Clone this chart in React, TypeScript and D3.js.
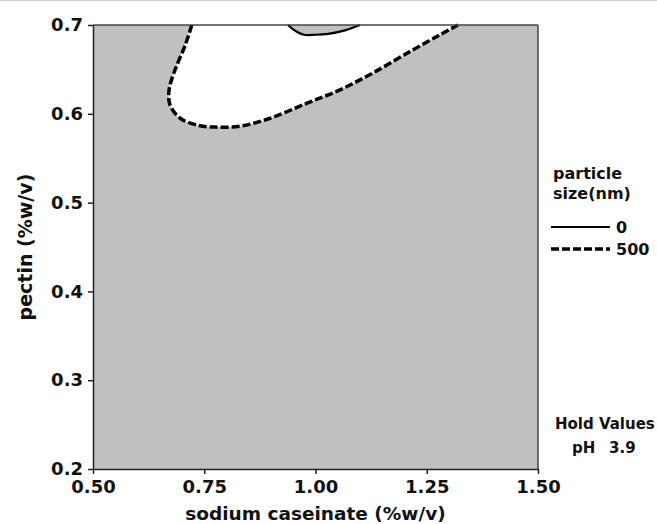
import React, { useEffect, useRef } from "react";
import * as d3 from "d3";

// axis ticks
const xTicks = [0.5, 0.75, 1.0, 1.25, 1.5];
const yTicks = [0.2, 0.3, 0.4, 0.5, 0.6, 0.7];

// contour 500 nm (dashed): [sodium caseinate, pectin]
const contour500X = [0.722, 0.707, 0.684, 0.671, 0.673, 0.696, 0.736, 0.774, 0.83, 0.898, 0.981, 1.055, 1.129, 1.212, 1.28, 1.32];
const contour500Y = [0.7, 0.677, 0.649, 0.627, 0.61, 0.595, 0.587, 0.585, 0.586, 0.595, 0.612, 0.627, 0.646, 0.67, 0.689, 0.7];

// contour 0 nm (solid)
const contour0X = [0.938, 0.956, 0.974, 1.0, 1.028, 1.066, 1.1];
const contour0Y = [0.7, 0.693, 0.689, 0.689, 0.69, 0.694, 0.7];

const legendLabels = ["0", "500"];
const holdName = "pH";
const holdValue = "3.9";

const W = 657;
const H = 524;
const margin = { top: 25, right: 119, bottom: 55, left: 93 };
const FONT = "Tahoma, 'DejaVu Sans', sans-serif";

export default function App() {
  const svgRef = useRef<SVGSVGElement>(null);

  useEffect(() => {
    const svg = d3.select(svgRef.current);
    svg.selectAll("*").remove();

    const x = d3.scaleLinear().domain([0.5, 1.5]).range([margin.left, W - margin.right]);
    const y = d3.scaleLinear().domain([0.2, 0.7]).range([H - margin.bottom, margin.top]);

    // thin border at top of image
    svg.append("line").attr("x1", 0).attr("x2", W).attr("y1", 0.5).attr("y2", 0.5)
      .attr("stroke", "#cfcfcf").attr("stroke-width", 1);

    const plot = svg.append("g");
    plot.append("rect")
      .attr("x", x(0.5)).attr("y", y(0.7))
      .attr("width", x(1.5) - x(0.5)).attr("height", y(0.2) - y(0.7))
      .attr("fill", "#c0c0c0");

    const line = d3.line<[number, number]>()
      .x(d => x(d[0])).y(d => y(d[1]))
      .curve(d3.curveCatmullRom.alpha(0.5));

    const pts500 = contour500X.map((v, i) => [v, contour500Y[i]] as [number, number]);
    const pts0 = contour0X.map((v, i) => [v, contour0Y[i]] as [number, number]);

    // white region inside the 500 contour
    plot.append("path").attr("d", line(pts500) + "Z").attr("fill", "#ffffff");
    // gray region above 0 contour
    plot.append("path").attr("d", line(pts0) + "Z").attr("fill", "#c0c0c0");

    plot.append("path").attr("d", line(pts500)).attr("fill", "none")
      .attr("stroke", "#000").attr("stroke-width", 3.5).attr("stroke-dasharray", "8,3");
    plot.append("path").attr("d", line(pts0)).attr("fill", "none")
      .attr("stroke", "#000").attr("stroke-width", 2.2);

    // frame
    plot.append("line").attr("x1", x(0.5)).attr("x2", x(1.5)).attr("y1", y(0.7)).attr("y2", y(0.7))
      .attr("stroke", "#444").attr("stroke-width", 1.5);
    plot.append("line").attr("x1", x(1.5)).attr("x2", x(1.5)).attr("y1", y(0.7)).attr("y2", y(0.2))
      .attr("stroke", "#444").attr("stroke-width", 1.5);

    // axes
    const xAxis = d3.axisBottom(x).tickValues(xTicks).tickFormat(d3.format(".2f")).tickSize(5).tickSizeOuter(0);
    const yAxis = d3.axisLeft(y).tickValues(yTicks).tickFormat(d3.format(".1f")).tickSize(5).tickSizeOuter(0);

    const gx = svg.append("g").attr("transform", `translate(0,${y(0.2)})`).call(xAxis);
    const gy = svg.append("g").attr("transform", `translate(${x(0.5)},0)`).call(yAxis);
    [gx, gy].forEach(g => {
      g.select(".domain").attr("stroke", "#222").attr("stroke-width", 1.5);
      g.selectAll(".tick line").attr("stroke", "#222").attr("stroke-width", 1.5);
      g.selectAll("text").attr("font-family", FONT).attr("font-weight", "bold")
        .attr("font-size", 18).attr("fill", "#111");
    });
    gx.selectAll("text").attr("y", 7).attr("dy", "0.95em");
    gy.selectAll("text").attr("x", -10);

    // axis titles
    svg.append("text").attr("x", (x(0.5) + x(1.5)) / 2).attr("y", 520)
      .attr("text-anchor", "middle").attr("font-family", FONT).attr("font-weight", "bold")
      .attr("font-size", 18.5).attr("fill", "#111").text("sodium caseinate (%w/v)");
    svg.append("text").attr("transform", `translate(32,${(y(0.2) + y(0.7)) / 2}) rotate(-90)`)
      .attr("text-anchor", "middle").attr("font-family", FONT).attr("font-weight", "bold")
      .attr("font-size", 19).attr("fill", "#111").text("pectin (%w/v)");

    // legend
    const lg = svg.append("g").attr("font-family", FONT).attr("font-weight", "bold")
      .attr("font-size", 16).attr("fill", "#111");
    lg.append("text").attr("x", 553).attr("y", 179).text("particle");
    lg.append("text").attr("x", 553).attr("y", 199).text("size(nm)");
    legendLabels.forEach((lab, i) => {
      const ly = 227 + i * 22;
      lg.append("line").attr("x1", 551).attr("x2", 610).attr("y1", ly).attr("y2", ly)
        .attr("stroke", "#000").attr("stroke-width", i === 0 ? 2 : 3.5)
        .attr("stroke-dasharray", i === 0 ? null : "8,3");
      lg.append("text").attr("x", 616).attr("y", ly + 6).text(lab);
    });

    // hold values
    const hv = svg.append("g").attr("font-family", FONT).attr("font-weight", "bold")
      .attr("font-size", 15).attr("fill", "#111");
    hv.append("text").attr("x", 555).attr("y", 429).text("Hold Values");
    hv.append("text").attr("x", 572).attr("y", 453).text(holdName);
    hv.append("text").attr("x", 609).attr("y", 453).text(holdValue);
  }, []);

  return (
    <svg ref={svgRef} width={W} height={H}
      style={{ position: "absolute", left: 0, top: 0, background: "#fff" }} />
  );
}
